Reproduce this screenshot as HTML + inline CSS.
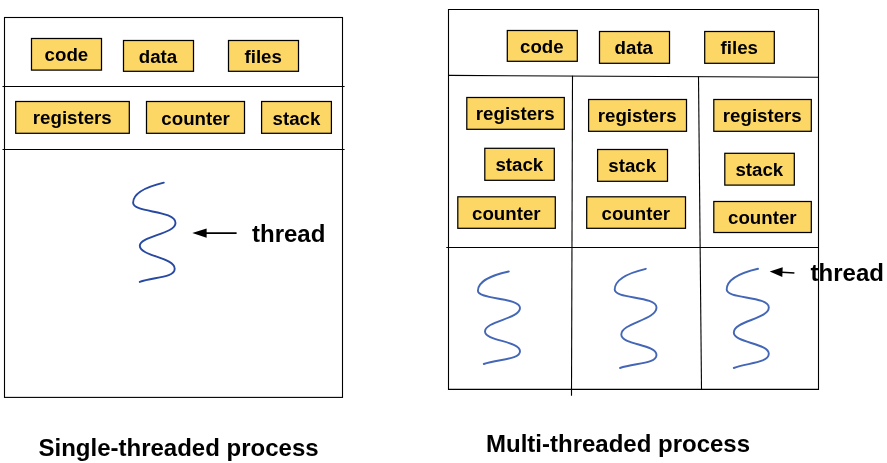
<!DOCTYPE html>
<html>
<head>
<meta charset="utf-8">
<title>Single-threaded vs Multi-threaded process</title>
<style>
  html, body { margin: 0; padding: 0; background: #ffffff; }
  body { width: 887px; height: 463px; overflow: hidden; font-family: "Liberation Sans", sans-serif; }
  svg { display: block; will-change: transform; }
  .ln { stroke: #000; stroke-width: 1.1; fill: none; }
  .bx { fill: #fdd766; stroke: #000; stroke-width: 1.25; }
  .lb { font-family: "Liberation Sans", sans-serif; font-weight: bold; font-size: 18.7px; fill: #000; text-anchor: middle; }
  .tt { font-family: "Liberation Sans", sans-serif; font-weight: bold; font-size: 24px; fill: #000; }
  .sq1 { stroke: #2749a2; stroke-width: 1.9; fill: none; stroke-linecap: round; }
  .sq2 { stroke: #4466b6; stroke-width: 1.9; fill: none; stroke-linecap: round; }
</style>
</head>
<body>
<svg width="887" height="463" viewBox="0 0 887 463">
  <rect x="0" y="0" width="887" height="463" fill="#ffffff"/>

  <!-- ===== Single-threaded process ===== -->
  <rect class="ln" x="4.5" y="17.5" width="338" height="379.9"/>
  <line class="ln" x1="2.5" y1="86.5" x2="344.6" y2="86.5"/>
  <line class="ln" x1="2.5" y1="149.5" x2="344.6" y2="149.5"/>

  <rect class="bx" x="31.5" y="38.5" width="70" height="31.6"/>
  <text class="lb" x="66.4" y="61.2">code</text>
  <rect class="bx" x="123.5" y="40.5" width="70" height="30.8"/>
  <text class="lb" x="158" y="62.8">data</text>
  <rect class="bx" x="228.5" y="40.5" width="70" height="30.8"/>
  <text class="lb" x="263.2" y="62.8">files</text>

  <rect class="bx" x="15.7" y="101.5" width="113.6" height="31.8"/>
  <text class="lb" x="72.3" y="124.3">registers</text>
  <rect class="bx" x="146.5" y="101.5" width="98" height="31.8"/>
  <text class="lb" x="195.6" y="124.5">counter</text>
  <rect class="bx" x="261.6" y="101.5" width="69.8" height="31.8"/>
  <text class="lb" x="296.5" y="124.5">stack</text>

  <path class="sq1" d="M163.8 182.7 C148 186.5 133.1 192.5 133.1 202.8 C133.1 213 175.5 210 175.5 222.9 C175.5 234 139.8 236 139.8 245.8 C139.8 256 174.7 257.5 174.7 268.7 C174.7 278 153 277 139.8 281.9"/>

  <line x1="200" y1="233.1" x2="236.6" y2="233.1" stroke="#000" stroke-width="1.7"/>
  <path d="M192.3 233.1 L206.6 228.4 L206.6 237.8 Z" fill="#000"/>
  <text class="tt" x="252" y="242">thread</text>

  <text class="tt" x="38.5" y="455.8">Single-threaded process</text>

  <!-- ===== Multi-threaded process ===== -->
  <path class="ln" d="M448.5 9.5 L818.5 9.5 L818.5 389.4 L448.5 389.4 Z"/>
  <line class="ln" x1="448.5" y1="75.4" x2="818.5" y2="77.3"/>
  <line class="ln" x1="446.3" y1="247.5" x2="818.5" y2="247.5"/>
  <line class="ln" x1="572.5" y1="75.8" x2="571.5" y2="395.8"/>
  <line class="ln" x1="698.5" y1="76.5" x2="701.5" y2="389.4"/>

  <rect class="bx" x="507.3" y="30.5" width="70" height="30.8"/>
  <text class="lb" x="541.8" y="52.8">code</text>
  <rect class="bx" x="599.5" y="31.5" width="70" height="31.8"/>
  <text class="lb" x="633.8" y="54.3">data</text>
  <rect class="bx" x="704.7" y="31.5" width="69.6" height="31.8"/>
  <text class="lb" x="739.3" y="54.3">files</text>

  <!-- column 1 -->
  <rect class="bx" x="466.8" y="97.5" width="97.5" height="31.8"/>
  <text class="lb" x="515.3" y="120.3">registers</text>
  <rect class="bx" x="484.8" y="148.3" width="69.5" height="32"/>
  <text class="lb" x="519.3" y="171.2">stack</text>
  <rect class="bx" x="457.8" y="196.8" width="97.5" height="31.5"/>
  <text class="lb" x="506.3" y="219.5">counter</text>

  <!-- column 2 -->
  <rect class="bx" x="588.6" y="99.5" width="97.9" height="31.8"/>
  <text class="lb" x="637.2" y="122.3">registers</text>
  <rect class="bx" x="597.6" y="149.5" width="69.9" height="31.8"/>
  <text class="lb" x="632.2" y="172.3">stack</text>
  <rect class="bx" x="586.7" y="196.8" width="98.8" height="31.5"/>
  <text class="lb" x="635.8" y="219.5">counter</text>

  <!-- column 3 -->
  <rect class="bx" x="713.8" y="99.5" width="97.5" height="31.8"/>
  <text class="lb" x="762.3" y="122.3">registers</text>
  <rect class="bx" x="724.8" y="153.3" width="69.5" height="31.8"/>
  <text class="lb" x="759.3" y="176.1">stack</text>
  <rect class="bx" x="713.8" y="201.5" width="97.5" height="31"/>
  <text class="lb" x="762.3" y="223.9">counter</text>

  <!-- threads -->
  <path class="sq2" d="M508.8 271.5 C492 275 477.9 281.5 477.9 290.8 C477.9 300 520 297 520 308 C520 319 485 321 485 331.5 C485 341 520 341 520 351.3 C520 360 497 359 483.8 364"/>
  <path class="sq2" d="M645.8 268.8 C628 273 614.7 279.5 614.7 289.6 C614.7 299 656.5 296 656.5 307.5 C656.5 320 621.3 323 621.3 334.5 C621.3 345 656.5 344 656.5 355 C656.5 364 634 363 620 368"/>
  <path class="sq2" d="M758 268.8 C740 273 726.7 279.5 726.7 289.6 C726.7 299 768.8 296 768.8 307.5 C768.8 319 733.8 321 733.8 332.5 C733.8 343 768.8 343 768.8 353.8 C768.8 363 747 363 733.8 368"/>

  <line x1="778" y1="272" x2="794.4" y2="273" stroke="#000" stroke-width="1.7"/>
  <path d="M769.7 271.5 L782.7 267.2 L782.3 277 Z" fill="#000"/>
  <text class="tt" x="810.6" y="280.6">thread</text>

  <text class="tt" x="486" y="451.5">Multi-threaded process</text>
</svg>
</body>
</html>
